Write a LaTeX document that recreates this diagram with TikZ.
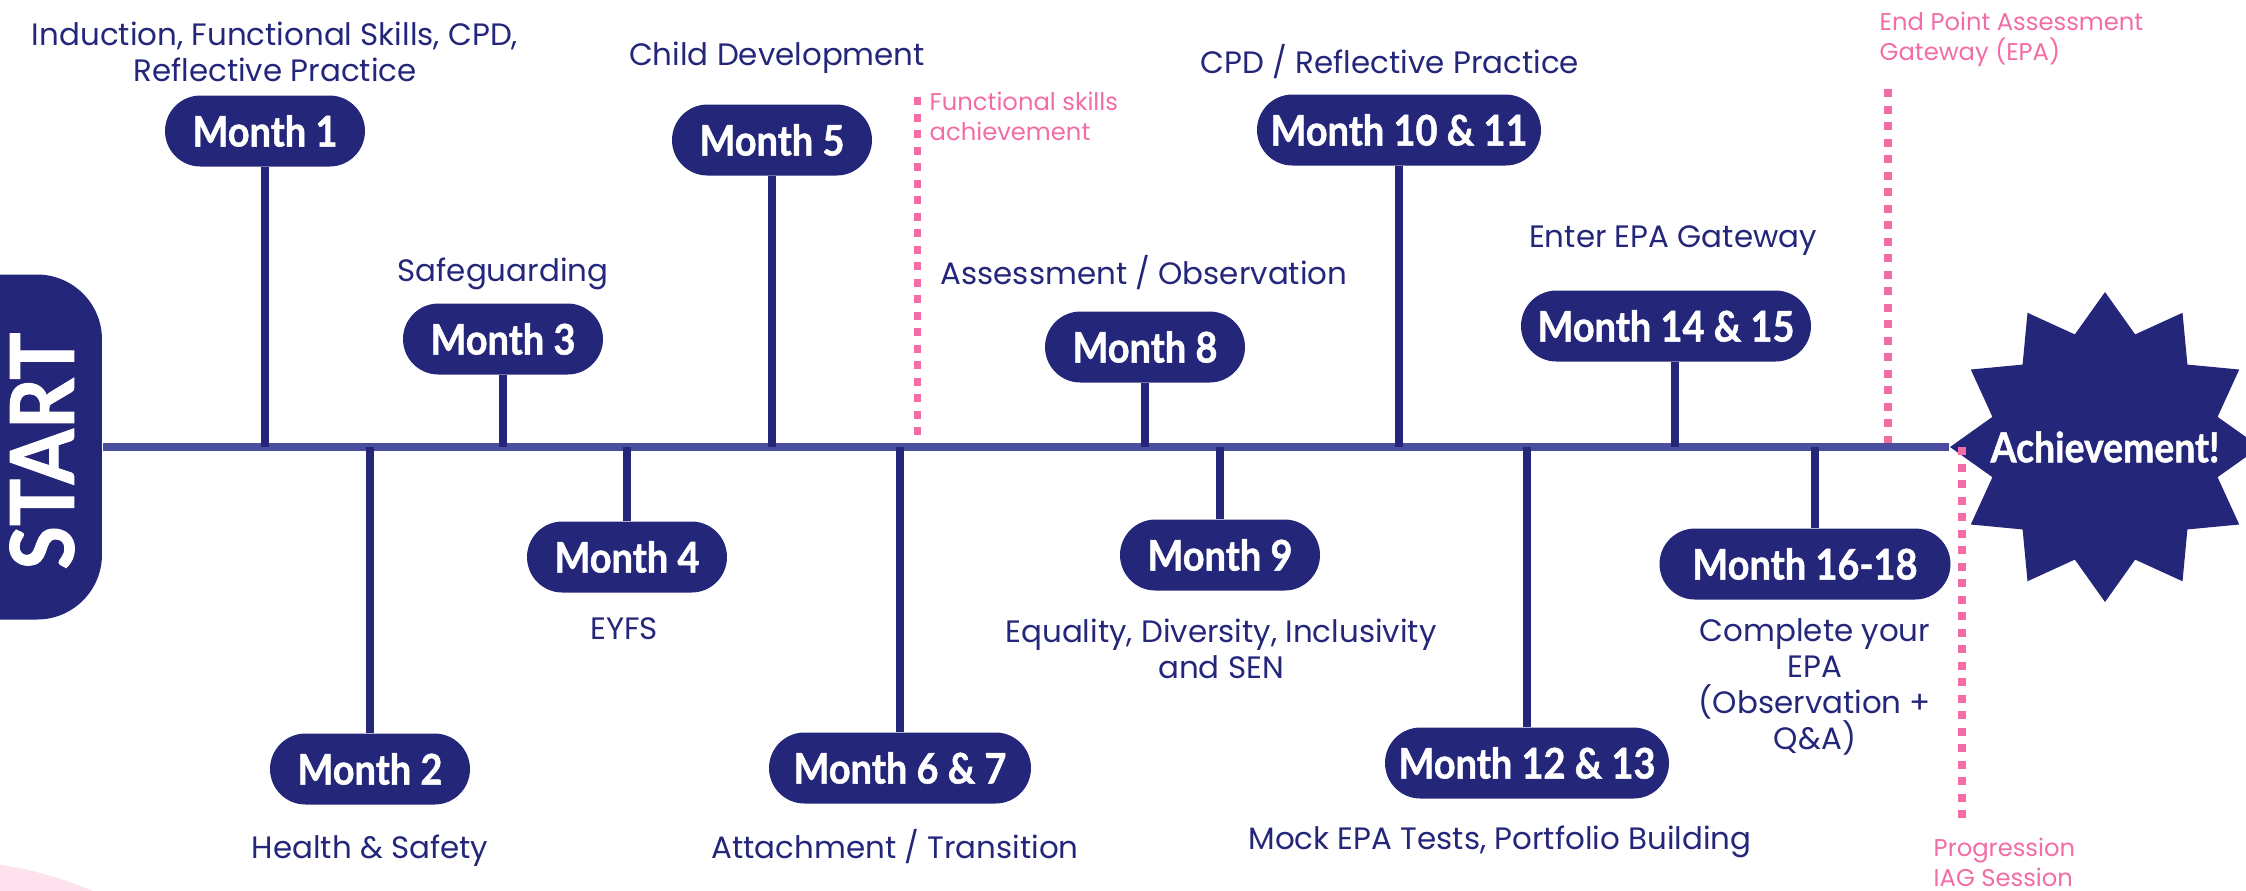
\documentclass[tikz,border=0pt]{standalone}
\usepackage{fontspec}
\setmainfont{Poppins}
\newfontfamily\boldsans{Lato}[FakeStretch=0.9,BoldFeatures={FakeBold=1.2}]
\usetikzlibrary{shapes.geometric}

\definecolor{navy}{HTML}{24267A}
\definecolor{axisblue}{HTML}{4B4EA0}
\definecolor{rose}{HTML}{F26CA5}
\definecolor{blush}{HTML}{FDE2EE}

\begin{document}
\begin{tikzpicture}[x=0.1mm,y=-0.1mm,
  month/.style={fill=navy,text=white,minimum width=20mm,minimum height=7.1mm,
    rounded corners=3.55mm,inner xsep=1mm,inner ysep=0pt,
    font=\boldsans\bfseries\fontsize{12}{13}\selectfont},
  topic/.style={text=navy,align=center,inner sep=0pt,
    font=\fontsize{8.8}{10.25}\selectfont},
  note/.style={text=rose,align=left,inner sep=0pt,anchor=north west,
    font=\fontsize{6.9}{8.5}\selectfont},
  stem/.style={draw=navy,line width=0.75mm},
  milestone/.style={draw=rose,line width=0.75mm,dash pattern=on 0.8mm off 0.85mm}]
\useasboundingbox (0,0) rectangle (2246,890);
% pale circle in the corner
\fill[blush] (-60,1250) circle (39mm);

% start and finish
\node[fill=navy,minimum width=20.4mm,minimum height=34.5mm,rounded corners=6.5mm] (start) at (0,447) {};
\node[rotate=90,text=white,inner sep=0pt,font=\boldsans\bfseries\fontsize{25}{26}\selectfont] (starttext) at (42,451) {START};
\node[star,star points=12,star point ratio=1.33,minimum size=31mm,inner sep=0pt,fill=navy] (goal) at (2105,447) {};
\node[text=white,inner sep=0pt,font=\boldsans\bfseries\fontsize{11.8}{12}\selectfont] (goaltext) at (goal) {Achievement!};

% pink milestones
\coordinate (fskills) at (917.5,97);
\coordinate (epa) at (1888,89);
\coordinate (iag) at (1962,822);
\draw[milestone] (fskills) -- (fskills |- start.east);
\draw[milestone] (epa) -- (epa |- start.east);
\draw[milestone] (iag |- start.east) -- (iag);
\node[note] (fskillsnote) at (929,91) {Functional skills\\achievement};
\node[note] (epanote) at (1879,11) {End Point Assessment\\Gateway (EPA)};
\node[note] (iagnote) at (1933,837) {Progression\\IAG Session};

% the timeline
\draw[axisblue,line width=0.8mm] (start.east) -- (goal.west);
\coordinate (axis) at (start.east);

% months above the line
\node[month] (m1) at (265,131) {Month 1};
\node[month] (m3) at (503,339) {Month 3};
\node[month] (m5) at (772,140) {Month 5};
\node[month] (m8) at (1145,347) {Month 8};
\node[month,minimum width=28.4mm] (m1011) at (1399,130) {Month 10 \& 11};
\node[month,minimum width=29mm] (m1415) at (1666,326) {Month 14 \& 15};
\draw[stem] (m1.south) -- (m1.south |- axis);
\draw[stem] (m3.south) -- (m3.south |- axis);
\draw[stem] (m5.south) -- (m5.south |- axis);
\draw[stem] (m8.south) -- (m8.south |- axis);
\draw[stem] (m1011.south) -- (m1011.south |- axis);
\draw[stem] ([xshift=0.9mm]m1415.south) -- ([xshift=0.9mm]m1415.south |- axis);

% months below the line
\node[month] (m2) at (370,769) {Month 2};
\node[month] (m4) at (627,557) {Month 4};
\node[month,minimum width=26.2mm] (m67) at (900,768) {Month 6 \& 7};
\node[month] (m9) at (1220,555) {Month 9};
\node[month,minimum width=28.4mm] (m1213) at (1527,763) {Month 12 \& 13};
\node[month,minimum width=29.1mm] (m1618) at (1805,564) {Month 16-18};
\draw[stem] (m2.north) -- (m2.north |- axis);
\draw[stem] (m4.north) -- (m4.north |- axis);
\draw[stem] (m67.north) -- (m67.north |- axis);
\draw[stem] (m9.north) -- (m9.north |- axis);
\draw[stem] (m1213.north) -- (m1213.north |- axis);
\draw[stem] ([xshift=1mm]m1618.north) -- ([xshift=1mm]m1618.north |- axis);

% topics
\node[topic,anchor=north] (t1) at (275,21) {Induction, Functional Skills, CPD,\\Reflective Practice};
\node[topic,anchor=base] (t3) at (503,281) {Safeguarding};
\node[topic,anchor=base] (t5) at (777,65) {Child Development};
\node[topic,anchor=base] (t8) at (1144,284) {Assessment / Observation};
\node[topic,anchor=base] (t1011) at (1390,73) {CPD / Reflective Practice};
\node[topic,anchor=base] (t1415) at (1673,247) {Enter EPA Gateway};
\node[topic,anchor=base] (t2) at (370,858) {Health \& Safety};
\node[topic,anchor=base] (t4) at (624,639) {EYFS};
\node[topic,anchor=base] (t67) at (895,858) {Attachment / Transition};
\node[topic,anchor=north] (t9) at (1221,618) {Equality, Diversity, Inclusivity\\and SEN};
\node[topic,anchor=base] (t1213) at (1500,849) {Mock EPA Tests, Portfolio Building};
\node[topic,anchor=north] (t1618) at (1815,618) {Complete your\\EPA\\(Observation +\\Q\&A)};
\end{tikzpicture}
\end{document}
